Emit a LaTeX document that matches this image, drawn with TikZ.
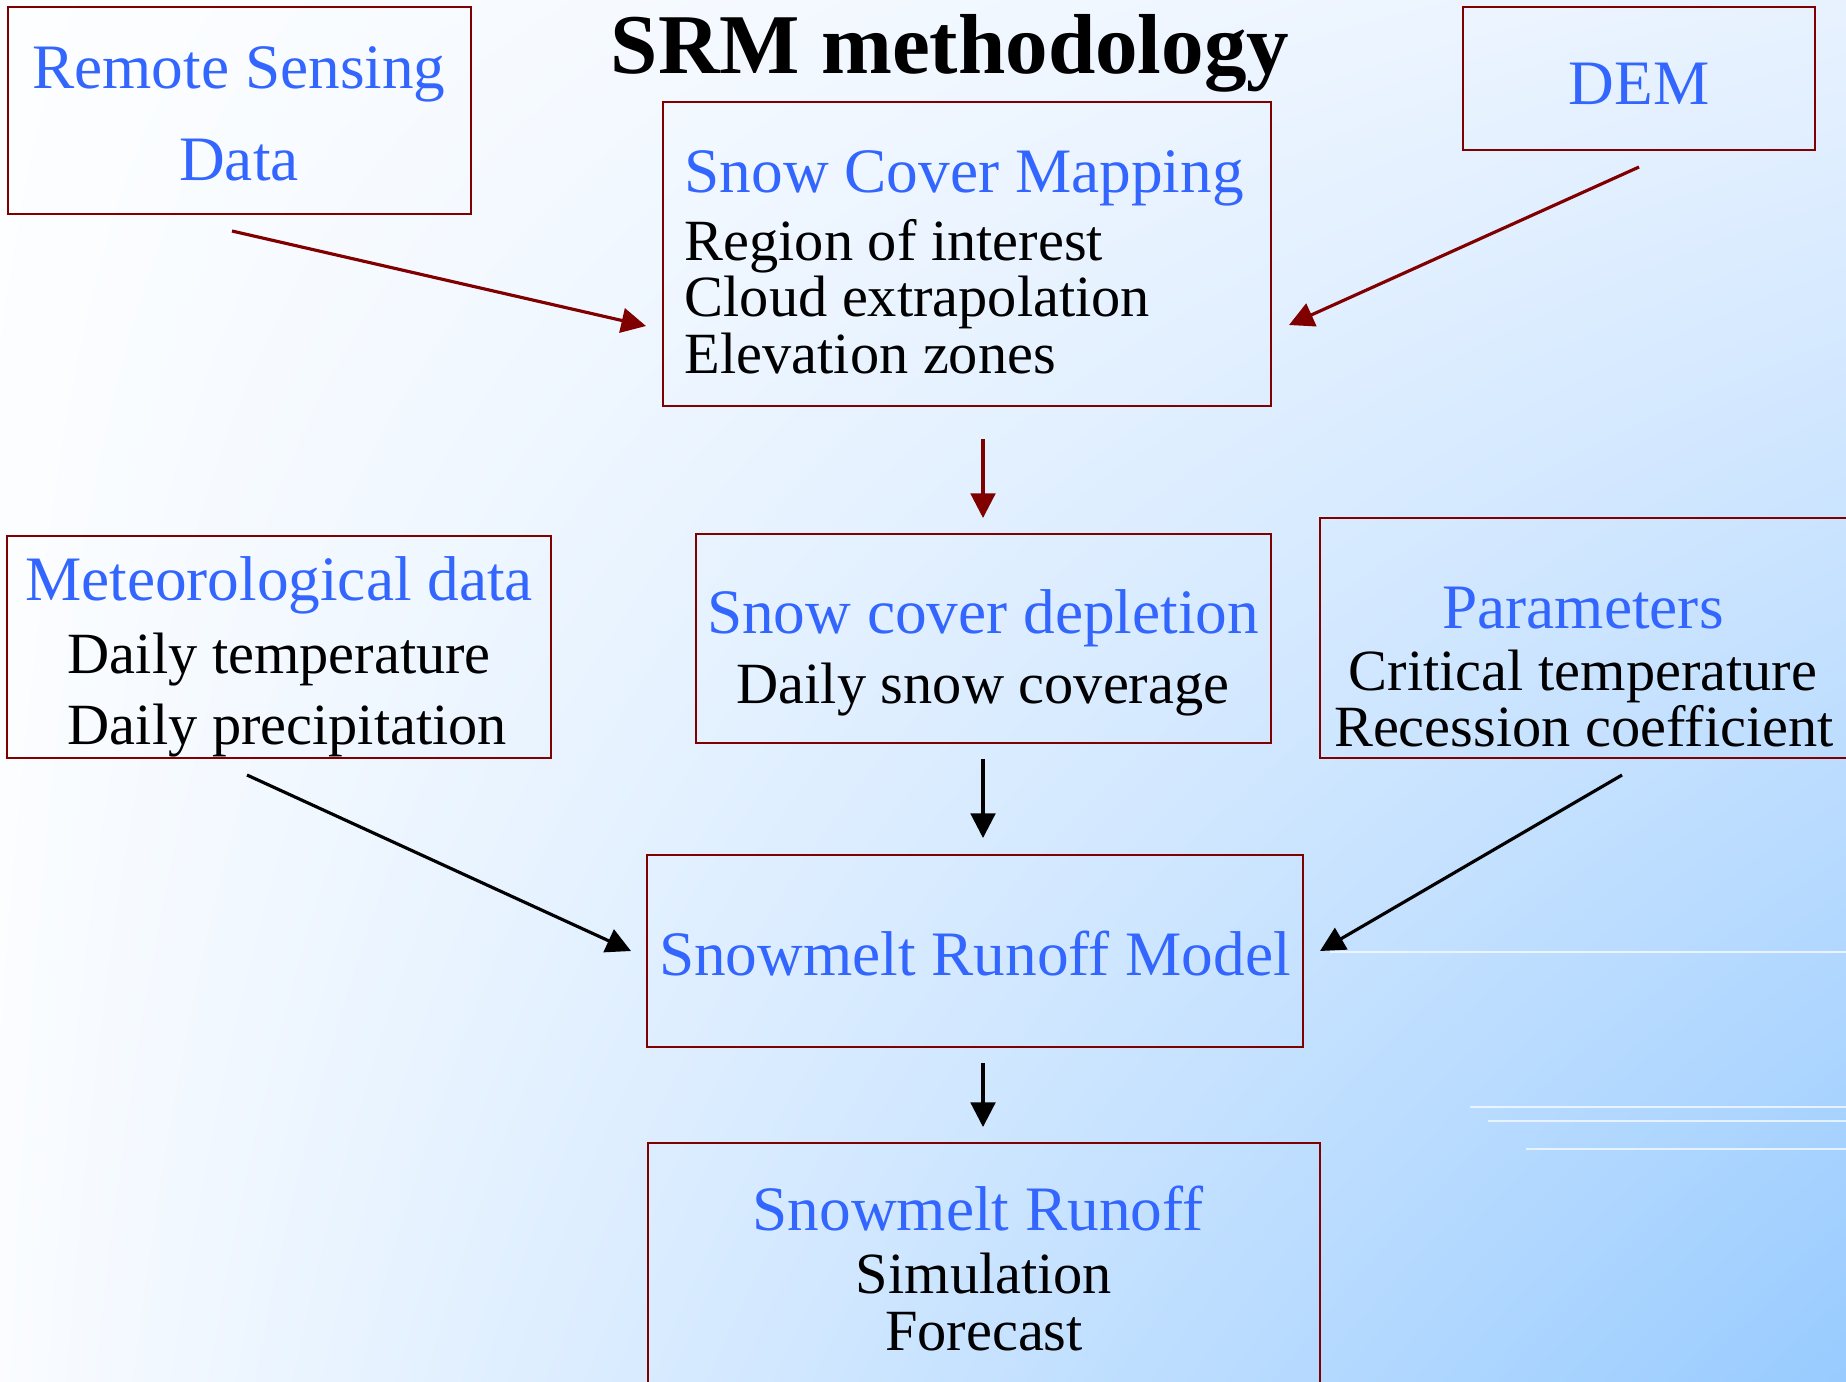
\documentclass[tikz,border=0pt]{standalone}
\usepackage{fontspec}
\setmainfont{Liberation Serif}
\usetikzlibrary{arrows.meta, shadings}

\definecolor{srmblue}{RGB}{51,102,255}
\definecolor{srmred}{RGB}{128,0,0}
\definecolor{bgul}{RGB}{253,254,255}
\definecolor{bgur}{RGB}{232,242,255}
\definecolor{bgll}{RGB}{250,252,255}
\definecolor{bglr}{RGB}{152,203,255}

\tikzset{
  every box/.style={draw=srmred, line width=0.6pt, inner sep=0pt},
  box head/.style={text=srmblue, font=\fontsize{18}{18}\selectfont, inner sep=0pt, anchor=base},
  box text/.style={font=\fontsize{16.6}{16.6}\selectfont, inner sep=0pt, anchor=base},
  red flow/.style={->, draw=srmred, fill=srmred, line width=0.9pt},
  black flow/.style={->, line width=0.9pt},
}

\begin{document}
\begin{tikzpicture}[x=0.01cm, y=-0.01cm, >={Triangle[length=7pt, width=7pt]}]

        \clip (0,0) rectangle (1846,1381);
        \shade [upper left=bgul, upper right=bgur, lower left=bgll, lower right=bglr]
          (0,0) rectangle (1846,1381);
        \foreach \x/\y in {1330/952, 1470/1107, 1488/1121, 1526/1149}
          \draw [white, opacity=0.7, line width=0.4pt] (\x,\y) -- (1846,\y);

        \foreach \n/\x/\y/\w/\h in {rs/239.5/110.5/4.63/2.07, dem/1639/78.5/3.52/1.43,
            scm/967/254/6.08/3.04, met/279/647/5.44/2.22, scd/983.5/638.5/5.75/2.09,
            par/1590/638/5.40/2.40, srm/975/951/6.56/1.92, sro/984/1271.5/6.72/2.57}
          \node [every box/.try, minimum width=\w cm, minimum height=\h cm] (\n) at (\x,\y) {};

        \node [anchor=base, inner sep=0pt, font=\fontsize{24.2}{24.2}\selectfont\bfseries] (title) at (950,73) {SRM methodology};

        \node [box head] (rs-1) at (239,88) {Remote Sensing};
        \node [box head] (rs-2) at (239,180) {Data};
        \node [box head] (dem-1) at (1639,104) {DEM};

        \node [box head, anchor=base west] (scm-1) at (684,192) {Snow Cover Mapping};
        \foreach \l/\y [count=\i] in {Region of interest/260, Cloud extrapolation/316, Elevation zones/373}
          \node [box text, anchor=base west] (scm-t\i) at (684,\y) {\l};

        \node [box head] (met-1) at (279,600) {Meteorological data};
        \node [box text, anchor=base west] (met-t1) at (67,673) {Daily temperature};
        \node [box text, anchor=base west] (met-t2) at (67,744) {Daily precipitation};

        \node [box head] (scd-1) at (983,633) {Snow cover depletion};
        \node [box text] (scd-t1) at (983,703) {Daily snow coverage};

        \node [box head] (par-1) at (1583,628) {Parameters};
        \node [box text] (par-t1) at (1583,690) {Critical temperature};
        \node [box text] (par-t2) at (1584,746) {Recession coefficient};

        \node [box head] (srm-1) at (975,975) {Snowmelt Runoff Model};

        \node [box head] (sro-1) at (978,1230) {Snowmelt Runoff};
        \node [box text] (sro-t1) at (984,1293) {Simulation};
        \node [box text] (sro-t2) at (984,1350) {Forecast};

        % arrow ends
        \coordinate (rs-out) at (232,231);
        \coordinate (scm-in-l) at (646,326);
        \coordinate (dem-out) at (1639,167);
        \coordinate (scm-in-r) at (1289,325);
        \coordinate (scm-out) at (983,439);
        \coordinate (scd-in) at (983,518);
        \coordinate (met-out) at (247,775);
        \coordinate (srm-in-l) at (631,951);
        \coordinate (scd-out) at (983,759);
        \coordinate (srm-in) at (983,838);
        \coordinate (par-out) at (1622,775);
        \coordinate (srm-in-r) at (1320,951);
        \coordinate (srm-out) at (983,1063);
        \coordinate (sro-in) at (983,1127);

        \foreach \i/\j in {rs-out/scm-in-l, dem-out/scm-in-r, scm-out/scd-in}
          \draw [red flow] (\i) -- (\j);
        \foreach \i/\j in {met-out/srm-in-l, scd-out/srm-in, par-out/srm-in-r, srm-out/sro-in}
          \draw [black flow] (\i) -- (\j);

\end{tikzpicture}
\end{document}
